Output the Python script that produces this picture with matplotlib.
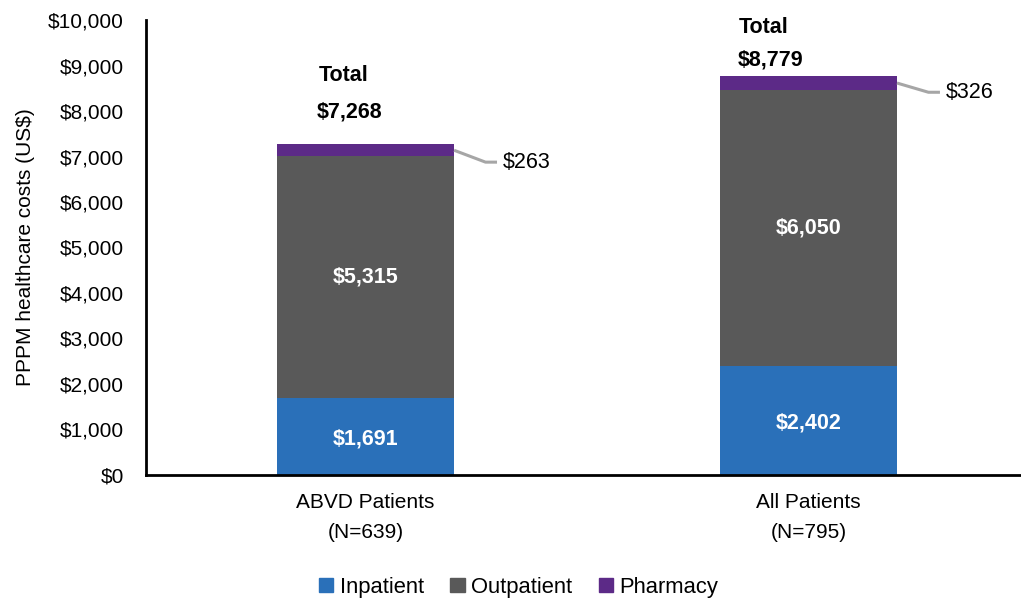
import numpy as np
import matplotlib.pyplot as plt
from matplotlib.patches import Patch

plt.rcParams['font.family'] = ['Liberation Sans', 'DejaVu Sans']

# data
groups = ['ABVD Patients\n(N=639)', 'All Patients\n(N=795)']
inpatient = [1691, 2402]
outpatient = [5315, 6050]
pharmacy = [263, 326]
totals = [7268, 8779]
series_names = ['Inpatient', 'Outpatient', 'Pharmacy']
colors = ['#2a70b9', '#595959', '#5c2a87']

fig = plt.figure(figsize=(10.21, 6.01), dpi=100)
ax = fig.add_axes([0.143, 0.2097, 0.857, 0.757])

x = np.arange(len(groups))
w = 0.40
ax.bar(x, inpatient, w, color=colors[0], label=series_names[0])
ax.bar(x, outpatient, w, bottom=inpatient, color=colors[1], label=series_names[1])
bottoms2 = np.array(inpatient) + np.array(outpatient)
ax.bar(x, pharmacy, w, bottom=bottoms2, color=colors[2], label=series_names[2])

# value labels inside bars
for i in range(len(x)):
    ax.text(x[i], inpatient[i] / 2 - 50, f'${inpatient[i]:,}', ha='center', va='center',
            color='white', fontsize=15.5, fontweight='bold')
    ax.text(x[i], inpatient[i] + outpatient[i] / 2, f'${outpatient[i]:,}', ha='center', va='center',
            color='white', fontsize=15.5, fontweight='bold')

# pharmacy leader lines
lead_drop = [130, 40]
for i in range(len(x)):
    x0 = x[i] + w / 2
    y0 = bottoms2[i] + pharmacy[i] / 2
    y1 = bottoms2[i] - lead_drop[i]
    ax.plot([x0, x0 + 0.071, x0 + 0.097], [y0, y1, y1], color='#a6a6a6', lw=2.2,
            solid_capstyle='butt', clip_on=False)
    ax.text(x0 + 0.11, y1, f'${pharmacy[i]:,}', ha='left', va='center', fontsize=15.5)

# totals
tot_dx = [-0.05, -0.1]
tot_off = [(1520, 710), (1067, 342)]
for i in range(len(x)):
    ax.text(x[i] + tot_dx[i], totals[i] + tot_off[i][0], 'Total', ha='center', va='center',
            fontsize=15.5, fontweight='bold')
    ax.text(x[i] + tot_dx[i] + 0.015, totals[i] + tot_off[i][1], f'${totals[i]:,}', ha='center',
            va='center', fontsize=15.5, fontweight='bold')

ax.set_ylim(0, 10000)
ax.set_xlim(-0.4955, 1.48)
ax.set_yticks(np.arange(0, 10001, 1000))
ax.set_yticklabels([f'${v:,}' for v in range(0, 10001, 1000)], fontsize=15)
ax.set_xticks(x)
ax.set_xticklabels(groups, fontsize=15, linespacing=1.7)
ax.tick_params(axis='y', length=0, pad=16)
ax.tick_params(axis='x', length=0, pad=13)
ax.spines['top'].set_visible(False)
ax.spines['right'].set_visible(False)
ax.spines['left'].set_linewidth(2)
ax.spines['bottom'].set_linewidth(2)
ax.set_ylabel('PPPM healthcare costs (US$)', fontsize=15, labelpad=9)

handles = [Patch(color=c, label=n) for c, n in zip(colors, series_names)]
fig.legend(handles=handles, loc='center', bbox_to_anchor=(0.508, 0.023), ncol=3, frameon=False,
           fontsize=15.8, handlelength=0.65, handleheight=0.65, handletextpad=0.3, columnspacing=1.2)

fig.savefig('out.png', dpi=100)
